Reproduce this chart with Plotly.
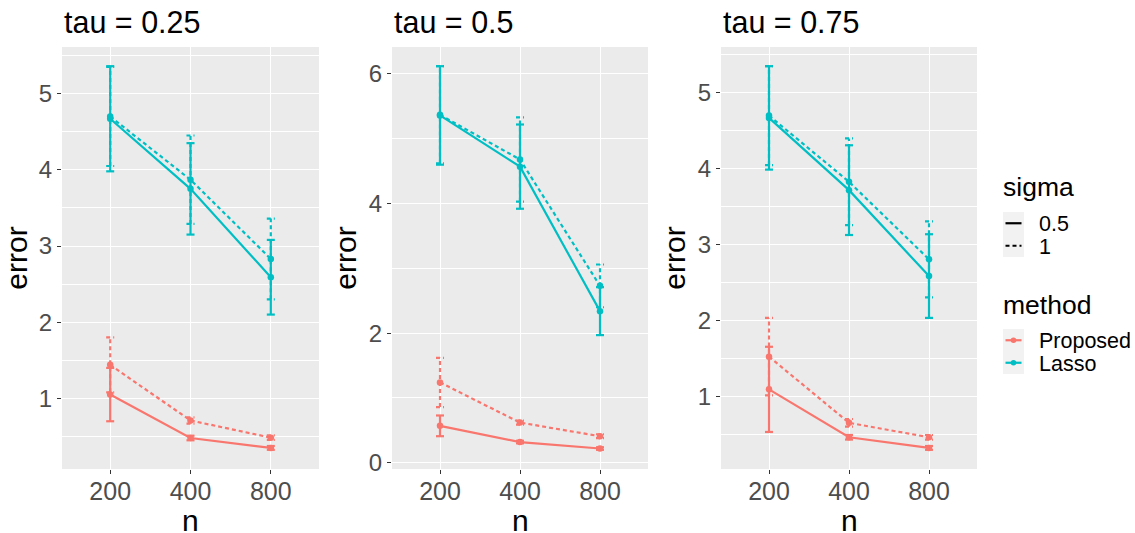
import plotly.graph_objects as go

# ---------------- data ----------------
n_labels = ["200", "400", "800"]
taus = ["0.25", "0.5", "0.75"]
methods = ["Proposed", "Lasso"]
sigmas = ["0.5", "1"]

# mean error and half-width of error bar
mean_tau025_proposed_s05 = [1.05, 0.48, 0.35]
mean_tau025_proposed_s1 = [1.44, 0.71, 0.485]
mean_tau025_lasso_s05 = [4.67, 3.75, 2.59]
mean_tau025_lasso_s1 = [4.70, 3.87, 2.83]
err_tau025_proposed_s05 = [0.35, 0.03, 0.025]
err_tau025_proposed_s1 = [0.36, 0.04, 0.03]
err_tau025_lasso_s05 = [0.69, 0.60, 0.49]
err_tau025_lasso_s1 = [0.65, 0.58, 0.53]

mean_tau05_proposed_s05 = [0.57, 0.32, 0.22]
mean_tau05_proposed_s1 = [1.24, 0.62, 0.41]
mean_tau05_lasso_s05 = [5.36, 4.57, 2.34]
mean_tau05_lasso_s1 = [5.37, 4.68, 2.73]
err_tau05_proposed_s05 = [0.16, 0.02, 0.02]
err_tau05_proposed_s1 = [0.38, 0.03, 0.03]
err_tau05_lasso_s05 = [0.76, 0.65, 0.37]
err_tau05_lasso_s1 = [0.75, 0.65, 0.33]

mean_tau075_proposed_s05 = [1.10, 0.47, 0.33]
mean_tau075_proposed_s1 = [1.53, 0.66, 0.47]
mean_tau075_lasso_s05 = [4.67, 3.72, 2.59]
mean_tau075_lasso_s1 = [4.70, 3.83, 2.81]
err_tau075_proposed_s05 = [0.56, 0.03, 0.025]
err_tau075_proposed_s1 = [0.51, 0.05, 0.03]
err_tau075_lasso_s05 = [0.68, 0.59, 0.55]
err_tau075_lasso_s1 = [0.65, 0.57, 0.50]

y_dticks = [1, 2, 1]

data = {
    "0.25": {
        ("Proposed", "0.5"): (mean_tau025_proposed_s05, err_tau025_proposed_s05),
        ("Proposed", "1"): (mean_tau025_proposed_s1, err_tau025_proposed_s1),
        ("Lasso", "0.5"): (mean_tau025_lasso_s05, err_tau025_lasso_s05),
        ("Lasso", "1"): (mean_tau025_lasso_s1, err_tau025_lasso_s1),
    },
    "0.5": {
        ("Proposed", "0.5"): (mean_tau05_proposed_s05, err_tau05_proposed_s05),
        ("Proposed", "1"): (mean_tau05_proposed_s1, err_tau05_proposed_s1),
        ("Lasso", "0.5"): (mean_tau05_lasso_s05, err_tau05_lasso_s05),
        ("Lasso", "1"): (mean_tau05_lasso_s1, err_tau05_lasso_s1),
    },
    "0.75": {
        ("Proposed", "0.5"): (mean_tau075_proposed_s05, err_tau075_proposed_s05),
        ("Proposed", "1"): (mean_tau075_proposed_s1, err_tau075_proposed_s1),
        ("Lasso", "0.5"): (mean_tau075_lasso_s05, err_tau075_lasso_s05),
        ("Lasso", "1"): (mean_tau075_lasso_s1, err_tau075_lasso_s1),
    },
}

# ---------------- style ----------------
W, H = 1135, 533
FONT = "Liberation Sans, Arial, sans-serif"
colors = {"Proposed": "#F8766D", "Lasso": "#00BFC4"}
dashes = {"0.5": "solid", "1": "4px,3px"}
LW = 2.2
MS = 6.5
CAP = 0.05  # half width of error-bar caps in x (category) units

# panel geometry in pixels
panels_px = [(62, 319), (392, 648), (721, 977)]
y_top_px, y_bot_px = 47, 469

fig = go.Figure()
xpos = list(range(len(n_labels)))

for pi, tau in enumerate(taus):
    xa = "x" if pi == 0 else f"x{pi+1}"
    ya = "y" if pi == 0 else f"y{pi+1}"
    for m in methods:
        for s in sigmas:
            mean, err = data[tau][(m, s)]
            ex, ey = [], []
            for xi, mu, e in zip(xpos, mean, err):
                lo, hi = mu - e, mu + e
                ex += [xi, xi, None, xi - CAP, xi + CAP, None, xi - CAP, xi + CAP, None]
                ey += [lo, hi, None, hi, hi, None, lo, lo, None]
            fig.add_trace(go.Scatter(
                x=ex, y=ey, mode="lines", xaxis=xa, yaxis=ya,
                line=dict(color=colors[m], width=LW, dash=dashes[s]),
                showlegend=False, hoverinfo="skip"))
            fig.add_trace(go.Scatter(
                x=xpos, y=mean, mode="lines+markers", xaxis=xa, yaxis=ya,
                line=dict(color=colors[m], width=LW, dash=dashes[s]),
                marker=dict(color=colors[m], size=MS),
                showlegend=False, name=f"{m}, sigma={s}"))

layout = dict(
    width=W, height=H,
    margin=dict(l=0, r=0, t=0, b=0, autoexpand=False),
    paper_bgcolor="white",
    plot_bgcolor="#EBEBEB",
    font=dict(family=FONT, color="black"),
    showlegend=False,
)

def px(xp):
    return xp / W

def py(yp):
    return 1 - yp / H

annotations = []
shapes = []
ydom = [1 - y_bot_px / H, 1 - y_top_px / H]
for pi, tau in enumerate(taus):
    sfx = "" if pi == 0 else str(pi + 1)
    x0, x1 = panels_px[pi]
    lows, highs = [], []
    for (m, s), (mean, err) in data[tau].items():
        lows += [mu - e for mu, e in zip(mean, err)]
        highs += [mu + e for mu, e in zip(mean, err)]
    lo, hi = min(lows), max(highs)
    pad = 0.05 * (hi - lo)
    dt = y_dticks[pi]
    layout["xaxis" + sfx] = dict(
        domain=[x0 / W, x1 / W], anchor="y" + sfx,
        range=[-0.6, len(n_labels) - 0.4],
        tickmode="array", tickvals=xpos, ticktext=n_labels,
        showgrid=True, gridcolor="white", gridwidth=1.2, zeroline=False,
        ticks="outside", ticklen=4, tickcolor="#333333", tickwidth=1,
        ticklabelstandoff=-4,
        tickfont=dict(size=25, color="#4D4D4D", family=FONT),
        automargin=False, showline=False, fixedrange=True,
    )
    layout["yaxis" + sfx] = dict(
        domain=ydom, anchor="x" + sfx,
        range=[lo - pad, hi + pad],
        tick0=0, dtick=dt,
        showgrid=True, gridcolor="white", gridwidth=1.2, zeroline=False,
        minor=dict(tick0=0, dtick=dt / 2, showgrid=True, gridcolor="white", gridwidth=0.6, ticks=""),
        ticks="outside", ticklen=4, tickcolor="#333333", tickwidth=1,
        tickfont=dict(size=24, color="#4D4D4D", family=FONT),
        title=dict(text="error", font=dict(size=30, color="black", family=FONT), standoff=3),
        automargin=False, showline=False, fixedrange=True,
    )
    annotations.append(dict(
        text=f"tau = {tau}", xref="paper", yref="paper",
        x=x0 / W, y=1 - 22.5 / H, xanchor="left", yanchor="middle",
        showarrow=False, font=dict(size=30.5, color="black", family=FONT)))
    # x-axis title "n"
    annotations.append(dict(
        text="n", xref="paper", yref="paper",
        x=px((x0 + x1) / 2), y=py(520), xanchor="center", yanchor="middle",
        showarrow=False, font=dict(size=30, color="black", family=FONT)))

# ---------------- manual legend (ggplot-style) ----------------
LEG_X = 1003
KEY_W = 21
LABEL_X = 1039
legend_blocks = [
    ("sigma", 187, [(s, "sigma") for s in sigmas], 212),
    ("method", 305, [(m, "method") for m in methods], 329),
]
ROW_H = 22.5
for title, ty, items, key_top in legend_blocks:
    annotations.append(dict(
        text=title, xref="paper", yref="paper", x=px(LEG_X - 2), y=py(ty),
        xanchor="left", yanchor="middle", showarrow=False,
        font=dict(size=26.5, color="black", family=FONT)))
    shapes.append(dict(
        type="rect", xref="paper", yref="paper", layer="below",
        x0=px(LEG_X), x1=px(LEG_X + KEY_W), y0=py(key_top), y1=py(key_top + ROW_H * len(items)),
        fillcolor="#F2F2F2", line=dict(width=0)))
    for i, (label, kind) in enumerate(items):
        cy = key_top + ROW_H * (i + 0.5)
        if kind == "sigma":
            col, dash = "black", dashes[label]
        else:
            col, dash = colors[label], "solid"
        shapes.append(dict(
            type="line", xref="paper", yref="paper",
            x0=px(LEG_X + 2.5), x1=px(LEG_X + KEY_W - 2.5), y0=py(cy), y1=py(cy),
            line=dict(color=col, width=LW, dash=dash)))
        if kind == "method":
            r = 2.8
            shapes.append(dict(
                type="circle", xref="paper", yref="paper",
                x0=px(LEG_X + KEY_W / 2 - r), x1=px(LEG_X + KEY_W / 2 + r),
                y0=py(cy - r), y1=py(cy + r),
                fillcolor=col, line=dict(width=0)))
        annotations.append(dict(
            text=label, xref="paper", yref="paper", x=px(LABEL_X - 2), y=py(cy + 1),
            xanchor="left", yanchor="middle", showarrow=False,
            font=dict(size=21.5, color="black", family=FONT)))

layout["annotations"] = annotations
layout["shapes"] = shapes
fig.update_layout(**layout)

fig.write_html(
    "out.html",
    config={"displayModeBar": False},
    post_script="document.body.style.margin='0px';document.body.style.overflow='hidden';",
)
